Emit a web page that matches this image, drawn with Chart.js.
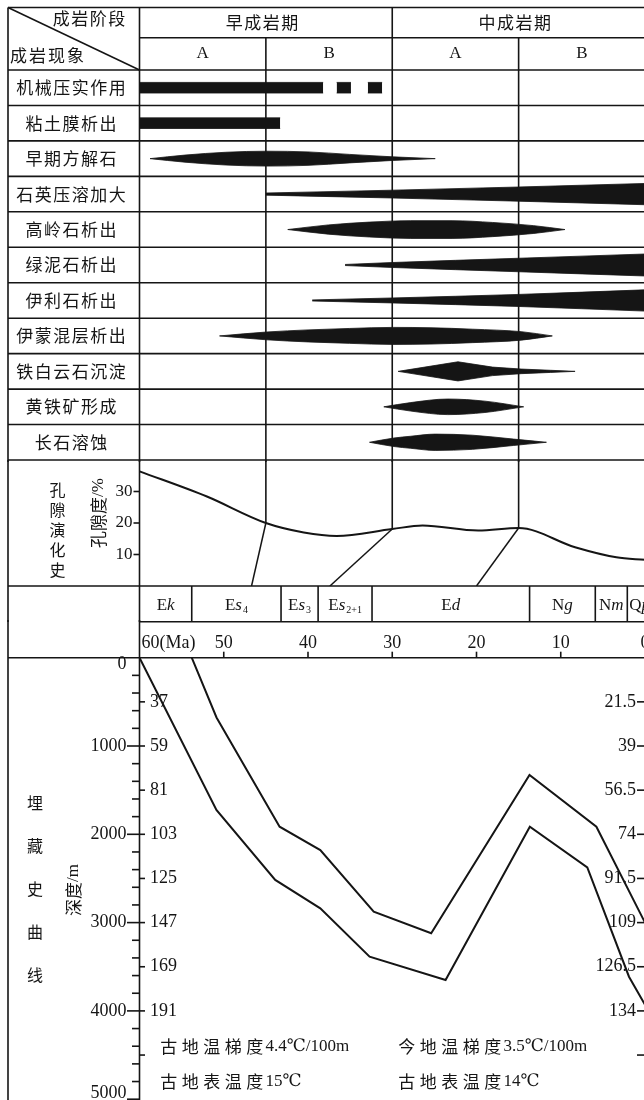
<!DOCTYPE html>
<html>
<head>
<meta charset="utf-8">
<script src="https://cdn.jsdelivr.net/npm/chart.js@4.4.0/dist/chart.umd.min.js"></script>
<style>
  html, body { margin: 0; padding: 0; background: #fff; overflow: hidden; width: 644px; height: 1100px; }
  canvas { position: absolute; left: 0; }
</style>
</head>
<body>
<canvas id="tableChart" width="650" height="462" style="top:0px"></canvas>
<canvas id="poreChart" width="650" height="162" style="top:460px"></canvas>
<canvas id="burialChart" width="650" height="480" style="top:620px"></canvas>
<script>
// 成岩阶段
const periods = ['早成岩期', '中成岩期'];
const periodBounds = [60, 30, 0];
const stages = ['A', 'B', 'A', 'B'];
const stageBounds = [60, 45, 30, 15, 0];

// 成岩现象 (每行若干段: 时间 Ma / 半厚度, 以行高为单位)
const phenomena = ['机械压实作用', '粘土膜析出', '早期方解石', '石英压溶加大', '高岭石析出',
  '绿泥石析出', '伊利石析出', '伊蒙混层析出', '铁白云石沉淀', '黄铁矿形成', '长石溶蚀'];
const lensAge = [
  [[60, 38.2], [36.6, 34.9], [32.9, 31.2]],
  [[60, 43.3]],
  [[58.75, 54.6, 49.75, 44.9, 40, 35.1, 29.9, 24.9]],
  [[45, 30, 15, 0]],
  [[42.4, 37.6, 32.7, 27.8, 22.9, 18.1, 13.2, 9.5]],
  [[35.6, 30, 15, 0]],
  [[39.5, 30, 15, 0]],
  [[50.5, 44.9, 40, 35.1, 29.9, 25.4, 20.5, 14.7, 11]],
  [[29.3, 22.2, 18.1, 14.7, 11.2, 8.3]],
  [[31, 27.8, 23.4, 19, 14.4]],
  [[32.7, 29.8, 27.8, 24.9, 20.5, 15.6, 11.7]]
];
const lensHalf = [
  [[0.15, 0.15], [0.15, 0.15], [0.15, 0.15]],
  [[0.15, 0.15]],
  [[0, 0.1, 0.18, 0.21, 0.19, 0.12, 0.05, 0]],
  [[0.03, 0.11, 0.2, 0.3]],
  [[0, 0.13, 0.21, 0.25, 0.25, 0.2, 0.11, 0]],
  [[0.015, 0.07, 0.19, 0.31]],
  [[0.015, 0.07, 0.17, 0.3]],
  [[0, 0.11, 0.17, 0.21, 0.24, 0.23, 0.19, 0.12, 0]],
  [[0, 0.27, 0.12, 0.065, 0.03, 0]],
  [[0, 0.12, 0.22, 0.16, 0]],
  [[0, 0.12, 0.17, 0.23, 0.2, 0.09, 0]]
];
const lensStyle = ['straight', 'straight', 'smooth', 'smooth', 'smooth', 'smooth', 'smooth',
  'smooth', 'straight', 'smooth', 'smooth'];

// 孔隙演化
const poreAge = [60, 52, 45, 40.5, 36.6, 30, 26.4, 19.8, 15, 8.3, 3.4, 0];
const porosity = [36.4, 28.4, 20.0, 17.0, 15.9, 18.1, 19.2, 17.6, 18.4, 12.3, 9.1, 8.3];
const poreTicks = [10, 20, 30];
const linkFrom = [45, 30, 15];
const linkTo = [46.7, 37.4, 20.0];

// 地层
const stratNames = ['Ek', 'Es4', 'Es3', 'Es2+1', 'Ed', 'Ng', 'Nm', 'Qp'];
const stratBounds = [60, 53.8, 43.2, 38.8, 32.4, 13.7, 5.9, 2.1, 0];
const ageTicks = [60, 50, 40, 30, 20, 10, 0];

// 埋藏史
const burialAge1 = [60, 50.87, 43.89, 38.54, 32.69, 23.67, 13.67, 6.85, 1.9, 0];
const burialDepth1 = [0, 1725, 2517, 2838, 3386, 3650, 1914, 2374, 3613, 3930];
const burialAge2 = [53.8, 50.86, 43.37, 38.54, 32.2, 25.38, 13.71, 5.77, 0];
const burialDepth2 = [0, 677, 1914, 2178, 2877, 3121, 1328, 1914, 3000];
const depthLabels = [0, 1000, 2000, 3000, 4000, 5000];
const tempDepths = [500, 1000, 1500, 2000, 2500, 3000, 3500, 4000, 4500];
const paleoTemps = ['37', '59', '81', '103', '125', '147', '169', '191'];
const presentTemps = ['21.5', '39', '56.5', '74', '91.5', '109', '126.5', '134'];
const notesLeft = ['古地温梯度4.4℃/100m', '古地表温度15℃'];
const notesRight = ['今地温梯度3.5℃/100m', '古地表温度14℃'];

const INK = '#151515';
const SERIF = '"Liberation Serif", "DejaVu Serif", serif';
const CJK = '"Noto Sans CJK SC", "Noto Sans CJK JP", sans-serif';

function seg(ctx, x1, y1, x2, y2) {
  ctx.beginPath(); ctx.moveTo(x1, y1); ctx.lineTo(x2, y2); ctx.stroke();
}
function isCJK(ch) { return ch.codePointAt(0) >= 0x2e80; }
// 中文按固定字距排, 其余按字体宽度
function mixedText(ctx, s, x, y, size, step, align) {
  const cells = [];
  let total = 0;
  for (const ch of s) {
    const cj = isCJK(ch);
    ctx.font = size + 'px ' + (cj ? CJK : SERIF);
    const w = cj ? step : ctx.measureText(ch).width;
    cells.push({ ch, cj, w });
    total += w;
  }
  let cx = align === 'center' ? x - total / 2 : align === 'right' ? x - total : x;
  ctx.textAlign = 'center';
  ctx.textBaseline = 'middle';
  cells.forEach(c => {
    ctx.font = size + 'px ' + (c.cj ? CJK : SERIF);
    ctx.fillText(c.ch, cx + c.w / 2, y);
    cx += c.w;
  });
}
function stratText(ctx, s, x, cy, align) {
  const a = s[0], b = s[1], c = s.slice(2);
  const f1 = '17px ' + SERIF, f2 = 'italic 17px ' + SERIF, f3 = '10px ' + SERIF;
  ctx.font = f1; const w1 = ctx.measureText(a).width;
  ctx.font = f2; const w2 = ctx.measureText(b).width;
  ctx.font = f3; const w3 = c ? ctx.measureText(c).width + 1 : 0;
  const x0 = align === 'left' ? x : x - (w1 + w2 + w3) / 2;
  const base = cy + 6;
  ctx.textAlign = 'left';
  ctx.textBaseline = 'alphabetic';
  ctx.font = f1; ctx.fillText(a, x0, base);
  ctx.font = f2; ctx.fillText(b, x0 + w1, base);
  if (c) { ctx.font = f3; ctx.fillText(c, x0 + w1 + w2 + 1, base + 3); }
}
function poreAt(age) { return porosity[poreAge.indexOf(age)]; }

function baseOptions(yMin, yMax, reverse, pad) {
  return {
    responsive: false,
    animation: false,
    devicePixelRatio: 1,
    layout: { padding: pad },
    plugins: { legend: { display: false }, tooltip: { enabled: false } },
    elements: { point: { radius: 0 } },
    scales: {
      x: { type: 'linear', min: 0, max: 60, reverse: true, display: false },
      y: { type: 'linear', min: yMin, max: yMax, reverse: reverse, display: false }
    }
  };
}

// ---------- 成岩阶段表 ----------
const tableSets = [];
phenomena.forEach((name, r) => {
  lensAge[r].forEach((ages, p) => {
    const half = lensHalf[r][p];
    const smooth = lensStyle[r] === 'smooth';
    const common = {
      borderColor: INK, backgroundColor: INK, borderWidth: 0.8, pointRadius: 0,
      cubicInterpolationMode: smooth ? 'monotone' : 'default', tension: 0
    };
    tableSets.push({ ...common, fill: false, data: ages.map((a, i) => ({ x: a, y: r + 0.5 - half[i] })) });
    tableSets.push({ ...common, fill: '-1', data: ages.map((a, i) => ({ x: a, y: r + 0.5 + half[i] })) });
  });
});

const tableGrid = {
  id: 'tableGrid',
  beforeDatasetsDraw(chart) {
    const { ctx, chartArea: ca, scales: { x, y } } = chart;
    const L = 8, R = chart.width, top = 7.5, mid = 37.7;
    const x60 = x.getPixelForValue(60);
    ctx.save();
    ctx.strokeStyle = INK;
    ctx.lineWidth = 1.6;
    seg(ctx, L, top, R, top);
    seg(ctx, x60, mid, R, mid);
    for (let i = 0; i <= phenomena.length; i++) {
      const py = y.getPixelForValue(i);
      seg(ctx, L, py, R, py);
    }
    seg(ctx, L, top, L, chart.height);
    stageBounds.forEach(b => {
      if (b === 0) return;
      const px = x.getPixelForValue(b);
      seg(ctx, px, periodBounds.includes(b) ? top : mid, px, chart.height);
    });
    seg(ctx, L, top, x60, ca.top);

    ctx.fillStyle = INK;
    mixedText(ctx, '成岩阶段', 89, 19, 17, 18.5, 'center');
    mixedText(ctx, '成岩现象', 47, 56, 17, 19, 'center');
    periods.forEach((p, i) => {
      const cx = (x.getPixelForValue(periodBounds[i]) + x.getPixelForValue(periodBounds[i + 1])) / 2 - 4;
      mixedText(ctx, p, cx, 23, 17, 18.5, 'center');
    });
    stages.forEach((s, i) => {
      const cx = (x.getPixelForValue(stageBounds[i]) + x.getPixelForValue(stageBounds[i + 1])) / 2;
      mixedText(ctx, s, cx, 54, 17, 17, 'center');
    });
    phenomena.forEach((p, r) => {
      mixedText(ctx, p, 71, y.getPixelForValue(r + 0.5), 17, 18.5, 'center');
    });
    ctx.restore();
  }
};

new Chart(document.getElementById('tableChart'), {
  type: 'line',
  data: { datasets: tableSets },
  options: baseOptions(0, 11, true, { left: 139.5, right: 5, top: 70, bottom: 2 }),
  plugins: [tableGrid]
});

// ---------- 孔隙演化史 + 地层 ----------
const poreSets = [{
  data: poreAge.map((a, i) => ({ x: a, y: porosity[i] })),
  borderColor: INK, borderWidth: 2, pointRadius: 0, fill: false,
  cubicInterpolationMode: 'monotone'
}];
linkFrom.forEach((a, i) => {
  poreSets.push({
    data: [{ x: a, y: poreAt(a) }, { x: linkTo[i], y: 0 }],
    borderColor: INK, borderWidth: 1.5, pointRadius: 0, fill: false, tension: 0
  });
});

const poreGrid = {
  id: 'poreGrid',
  beforeDatasetsDraw(chart) {
    const { ctx, chartArea: ca, scales: { x, y } } = chart;
    const L = 8, R = chart.width, H = chart.height;
    const x60 = x.getPixelForValue(60);
    ctx.save();
    ctx.strokeStyle = INK;
    ctx.lineWidth = 1.6;
    seg(ctx, L, 0, L, H);
    seg(ctx, x60, 0, x60, H);
    linkFrom.forEach(b => {
      const px = x.getPixelForValue(b);
      seg(ctx, px, 0, px, y.getPixelForValue(poreAt(b)));
    });
    seg(ctx, L, ca.bottom, R, ca.bottom);
    stratBounds.slice(1, -1).forEach(b => {
      const px = x.getPixelForValue(b);
      seg(ctx, px, ca.bottom, px, H);
    });
    poreTicks.forEach(v => {
      const py = y.getPixelForValue(v);
      seg(ctx, x60 - 6, py, x60, py);
    });

    ctx.fillStyle = INK;
    poreTicks.forEach(v => {
      mixedText(ctx, String(v), x60 - 7, y.getPixelForValue(v), 17, 17, 'right');
    });
    const sy = (ca.bottom + H) / 2;
    stratNames.forEach((s, i) => {
      const a = x.getPixelForValue(stratBounds[i]), b = x.getPixelForValue(stratBounds[i + 1]);
      if (i === stratNames.length - 1) stratText(ctx, s, a + 2, sy, 'left');
      else stratText(ctx, s, (a + b) / 2, sy, 'center');
    });
    [...'孔隙演化史'].forEach((ch, i) => mixedText(ctx, ch, 57.5, 30 + i * 20, 16, 16, 'center'));
    ctx.translate(98.5, 53);
    ctx.rotate(-Math.PI / 2);
    mixedText(ctx, '孔隙度/%', 0, 0, 17, 17, 'center');
    ctx.restore();
  }
};

new Chart(document.getElementById('poreChart'), {
  type: 'line',
  data: { datasets: poreSets },
  options: baseOptions(0, 40, false, { left: 139.5, right: 5, top: 0, bottom: 36 }),
  plugins: [poreGrid]
});

// ---------- 埋藏史曲线 ----------
const burialSets = [
  { data: burialAge1.map((a, i) => ({ x: a, y: burialDepth1[i] })) },
  { data: burialAge2.map((a, i) => ({ x: a, y: burialDepth2[i] })) }
].map(d => ({ ...d, borderColor: INK, borderWidth: 2, pointRadius: 0, fill: false, tension: 0 }));

const burialAxes = {
  id: 'burialAxes',
  beforeDatasetsDraw(chart) {
    const { ctx, chartArea: ca, scales: { x, y } } = chart;
    const L = 8, R = chart.width, H = chart.height;
    const x60 = x.getPixelForValue(60), x0 = x.getPixelForValue(0);
    ctx.save();
    ctx.strokeStyle = INK;
    ctx.lineWidth = 1.6;
    seg(ctx, x60, 1.7, R, 1.7);
    seg(ctx, L, ca.top, R, ca.top);
    seg(ctx, L, 0, L, H);
    seg(ctx, x60, 0, x60, H);
    ageTicks.slice(1).forEach(a => {
      const px = x.getPixelForValue(a);
      seg(ctx, px, ca.top - 6, px, ca.top);
    });
    for (let d = 200; d <= 5000; d += 200) {
      const py = y.getPixelForValue(d);
      seg(ctx, x60 - (d % 1000 === 0 ? 12.5 : 7.5), py, x60, py);
    }
    tempDepths.forEach(d => {
      const py = y.getPixelForValue(d);
      seg(ctx, x60, py, x60 + 5.5, py);
      seg(ctx, x0 - 8, py, x0, py);
    });

    ctx.fillStyle = INK;
    ageTicks.forEach((a, i) => {
      const px = x.getPixelForValue(a);
      if (i === 0) mixedText(ctx, a + '(Ma)', px + 2, 23, 18, 18, 'left');
      else mixedText(ctx, String(a), px, 23, 18, 18, 'center');
    });
    depthLabels.forEach((d, i) => {
      let py = y.getPixelForValue(d);
      if (i === 0) py += 7;
      if (i === depthLabels.length - 1) py -= 6;
      mixedText(ctx, String(d), x60 - 13, py, 18, 18, 'right');
    });
    paleoTemps.forEach((t, i) => {
      mixedText(ctx, t, x60 + 10.5, y.getPixelForValue(tempDepths[i]), 18, 18, 'left');
    });
    presentTemps.forEach((t, i) => {
      mixedText(ctx, t, x0 - 9, y.getPixelForValue(tempDepths[i]), 18, 18, 'right');
    });
    [...'埋藏史曲线'].forEach((ch, i) => mixedText(ctx, ch, 35, 183 + i * 43, 16, 16, 'center'));
    notesLeft.forEach((t, i) => mixedText(ctx, t, 158, 427 + i * 35, 17, 21.5, 'left'));
    notesRight.forEach((t, i) => mixedText(ctx, t, 396, 427 + i * 35, 17, 21.5, 'left'));
    ctx.translate(74, 270);
    ctx.rotate(-Math.PI / 2);
    mixedText(ctx, '深度/m', 0, 0, 17, 17, 'center');
    ctx.restore();
  }
};

new Chart(document.getElementById('burialChart'), {
  type: 'line',
  data: { datasets: burialSets },
  options: baseOptions(0, 5000, true, { left: 139.5, right: 5, top: 37.7, bottom: 0.8 }),
  plugins: [burialAxes]
});
</script>
</body>
</html>
